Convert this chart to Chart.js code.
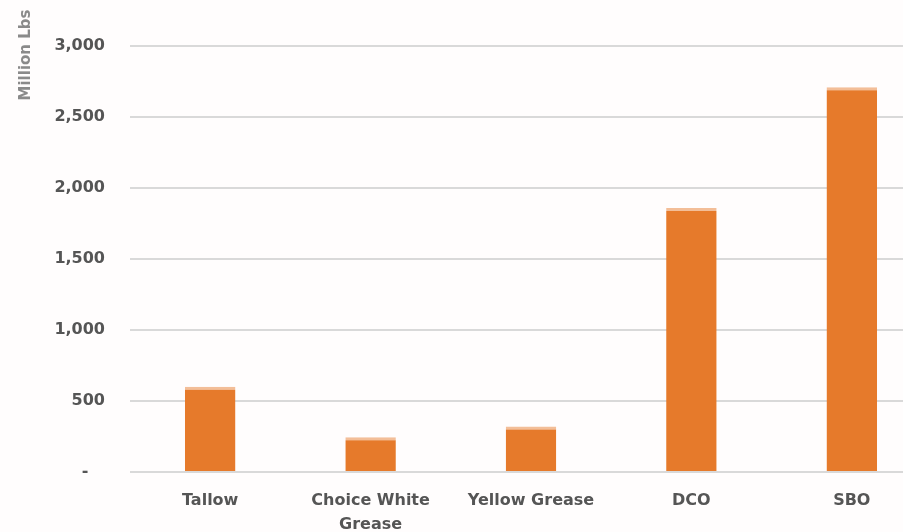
<!DOCTYPE html>
<html>
<head>
<meta charset="utf-8">
<script src="https://cdn.jsdelivr.net/npm/chart.js@4"></script>
<style>
  html, body { margin: 0; padding: 0; background: #fffdfd; overflow: hidden; }
  #wrap { position: absolute; left: 0; top: 0; width: 932px; height: 532px; }
</style>
</head>
<body>
<div id="wrap"><canvas id="c" width="932" height="532"></canvas></div>
<script>
const categories = [["Tallow"], ["Choice White", "Grease"], ["Yellow Grease"], ["DCO"], ["SBO"]];
const values = [600, 245, 320, 1860, 2710];
const yTicks = [0, 500, 1000, 1500, 2000, 2500, 3000];
const yAxisTitle = "Million Lbs";

const FONT = "'DejaVu Sans', sans-serif";
const TEXT = "#555555";

const yTitlePlugin = {
  id: 'yTitle',
  afterDraw(chart) {
    const ctx = chart.ctx;
    ctx.save();
    ctx.translate(26, 55);
    ctx.rotate(-Math.PI / 2);
    ctx.font = "bold 15px " + FONT;
    ctx.fillStyle = "#8a8a8a";
    ctx.textAlign = "center";
    ctx.textBaseline = "middle";
    ctx.fillText(yAxisTitle, 0, 0);
    ctx.restore();
  }
};

new Chart(document.getElementById('c'), {
  type: 'bar',
  data: {
    labels: categories,
    datasets: [{
      data: values,
      backgroundColor: '#E67A2B',
      borderColor: '#F3BE98',
      borderWidth: { top: 3, left: 0, right: 0, bottom: 0 },
      borderSkipped: false,
      categoryPercentage: 1,
      barPercentage: 0.315
    }]
  },
  options: {
    responsive: false,
    animation: false,
    layout: { padding: { top: 46, left: 0, right: 0, bottom: 0 } },
    plugins: { legend: { display: false }, tooltip: { enabled: false } },
    scales: {
      x: {
        grid: { display: false, drawTicks: false },
        border: { display: false },
        ticks: {
          color: TEXT,
          font: { family: FONT, size: 16, weight: 'bold', lineHeight: 1.5 },
          padding: 17,
          maxRotation: 0,
          autoSkip: false
        },
        afterFit(scale) { scale.height = 60; }
      },
      y: {
        min: 0,
        max: 3000,
        afterBuildTicks(scale) { scale.ticks = yTicks.map(v => ({ value: v })); },
        grid: { color: '#d9d9d9', lineWidth: 2, drawTicks: false },
        border: { display: false },
        ticks: {
          color: TEXT,
          font: { family: FONT, size: 16, weight: 'bold' },
          padding: 25,
          callback(v) { return v === 0 ? '-   ' : v.toLocaleString('en-US'); }
        },
        afterFit(scale) { scale.width = 130; }
      }
    }
  },
  plugins: [yTitlePlugin]
});
</script>
</body>
</html>
